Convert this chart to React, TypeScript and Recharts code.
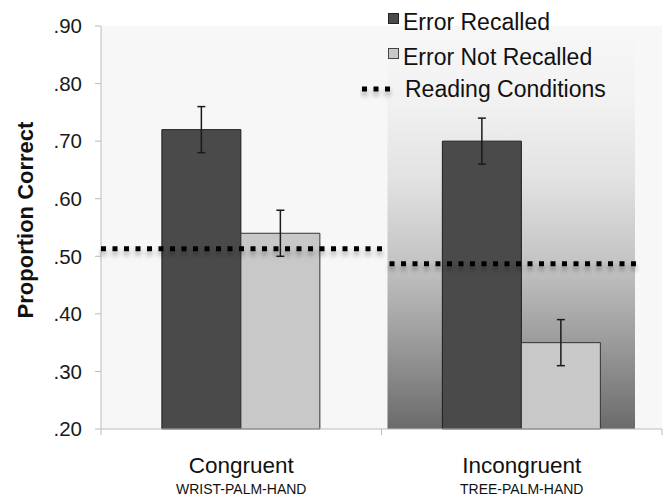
import React from "react";
import { ComposedChart, Bar, ErrorBar, XAxis, YAxis, CartesianGrid, ReferenceArea } from "recharts";

const categories = ["Congruent", "Incongruent"];
const subLabels = ["WRIST-PALM-HAND", "TREE-PALM-HAND"];
const errorRecalled = [0.72, 0.7];
const errorNotRecalled = [0.54, 0.35];
const errorRecalledSE = [0.04, 0.04];
const errorNotRecalledSE = [0.04, 0.04];
const readingConditions = [0.513, 0.487];
const yTicks = [0.2, 0.3, 0.4, 0.5, 0.6, 0.7, 0.8, 0.9];
const legendLabels = ["Error Recalled", "Error Not Recalled", "Reading Conditions"];

const data = categories.map((category, i) => ({
  category,
  recalled: errorRecalled[i],
  notRecalled: errorNotRecalled[i],
  errR: errorRecalledSE[i],
  errN: errorNotRecalledSE[i],
  reading: readingConditions[i],
}));

const FONT = '"Liberation Sans", Arial, Helvetica, sans-serif';
const DARK = "#4a4a4a";
const LIGHT = "#c8c8c8";
const AXIS = "#bcbcbc";

// inset of the dotted line inside each band [left, right]
const lineInset = [[0, -4], [8, 25]];

const CategoryTick = ({ x, y, payload, index }: any) => {
  const half = payload?.offset ?? 0;
  const i = payload?.index ?? index;
  return (
    <g>
      {half ? (
        <>
          <line x1={x - half} y1={y} x2={x - half} y2={y + 6} stroke={AXIS} />
          <line x1={x + half} y1={y} x2={x + half} y2={y + 6} stroke={AXIS} />
        </>
      ) : null}
      <text x={x} y={y + 44} textAnchor="middle" fontSize={22.5} fill="#111" fontFamily={FONT}>
        {payload.value}
      </text>
      <text x={x} y={y + 65} textAnchor="middle" fontSize={14} fill="#111" fontFamily={FONT}>
        {subLabels[i]}
      </text>
    </g>
  );
};

const dottedShape = (idx: number) => (props: any) => {
  const { x, y, width } = props;
  const [l, r] = lineInset[idx];
  return (
    <line
      x1={x + l}
      x2={x + width - r}
      y1={y}
      y2={y}
      stroke="#000"
      strokeWidth={5}
      strokeDasharray="5 6.5"
      filter="url(#lineShadow)"
    />
  );
};

const panelShape = (props: any) => {
  const { x, y, width, height } = props;
  return <rect x={x + 6} y={y} width={width - 33} height={height} fill="url(#panelGrad)" />;
};

const ChartLegend = () => (
  <svg width={300} height={110} style={{ position: "absolute", left: 360, top: 0, fontFamily: FONT }}>
    <defs>
      <filter id="legendShadow" filterUnits="userSpaceOnUse" x={0} y={0} width={300} height={110}>
        <feDropShadow dx={0} dy={4} stdDeviation={2.5} floodColor="#000" floodOpacity={0.35} />
      </filter>
    </defs>
    <rect x={28.5} y={13.5} width={10} height={10} fill={DARK} stroke="#222" />
    <text x={43} y={30} fontSize={23} fill="#111">{legendLabels[0]}</text>
    <rect x={28.5} y={48.5} width={10} height={10} fill={LIGHT} stroke="#444" />
    <text x={43} y={65} fontSize={23} fill="#111">{legendLabels[1]}</text>
    <line x1={2} x2={36} y1={89} y2={89} stroke="#000" strokeWidth={5} strokeDasharray="5 6.5" filter="url(#legendShadow)" />
    <text x={45} y={97} fontSize={23} fill="#111">{legendLabels[2]}</text>
  </svg>
);

export default function App() {
  return (
    <div style={{ position: "absolute", left: 0, top: 0, width: 668, height: 498, background: "#fff", fontFamily: FONT }}>
      <ComposedChart
        width={668}
        height={498}
        data={data}
        margin={{ top: 26, right: 6, bottom: 0, left: 0 }}
        barCategoryGap="21.7%"
        barGap={0}
      >
        <defs>
          <linearGradient id="panelGrad" x1="0" y1="0" x2="0" y2="1">
            <stop offset="0%" stopColor="#f7f7f7" />
            <stop offset="18%" stopColor="#f2f2f2" />
            <stop offset="38%" stopColor="#e2e2e2" />
            <stop offset="59%" stopColor="#c3c3c3" />
            <stop offset="78%" stopColor="#9c9c9c" />
            <stop offset="100%" stopColor="#6b6b6b" />
          </linearGradient>
          <filter id="lineShadow" filterUnits="userSpaceOnUse" x={0} y={0} width={668} height={498}>
            <feDropShadow dx={0} dy={4} stdDeviation={2.5} floodColor="#000" floodOpacity={0.35} />
          </filter>
        </defs>
        <CartesianGrid horizontal={false} vertical={false} fill="#f7f7f7" />
        <XAxis
          dataKey="category"
          height={69}
          stroke={AXIS}
          tickLine={false}
          tickSize={0}
          tickMargin={0}
          tick={<CategoryTick />}
          interval={0}
        />
        <YAxis
          width={101}
          domain={[0.2, 0.9]}
          ticks={yTicks}
          stroke={AXIS}
          tickSize={6}
          tickMargin={13}
          tickFormatter={(v: number) => v.toFixed(2).replace(/^0/, "")}
          tick={{ fill: "#1a1a1a", fontSize: 20.5, fontFamily: FONT }}
          label={{
            content: () => (
              <text
                x={33}
                y={220}
                transform="rotate(-90 33 220)"
                textAnchor="middle"
                fontSize={22}
                fontWeight="bold"
                fill="#111"
                fontFamily={FONT}
              >
                Proportion Correct
              </text>
            ),
          }}
        />
        <ReferenceArea x1={categories[1]} x2={categories[1]} shape={panelShape} ifOverflow="visible" zIndex={50} />
        <Bar dataKey="recalled" fill={DARK} stroke="#1e1e1e" strokeWidth={1} isAnimationActive={false}>
          <ErrorBar dataKey="errR" width={4} stroke="#1a1a1a" strokeWidth={1.5} />
        </Bar>
        <Bar dataKey="notRecalled" fill={LIGHT} stroke="#333" strokeWidth={1} isAnimationActive={false}>
          <ErrorBar dataKey="errN" width={4} stroke="#1a1a1a" strokeWidth={1.5} />
        </Bar>
        {categories.map((c, i) => (
          <ReferenceArea
            key={c}
            x1={c}
            x2={c}
            y1={readingConditions[i]}
            y2={readingConditions[i]}
            shape={dottedShape(i)}
            ifOverflow="visible"
            zIndex={900}
          />
        ))}
      </ComposedChart>
      <ChartLegend />
    </div>
  );
}
